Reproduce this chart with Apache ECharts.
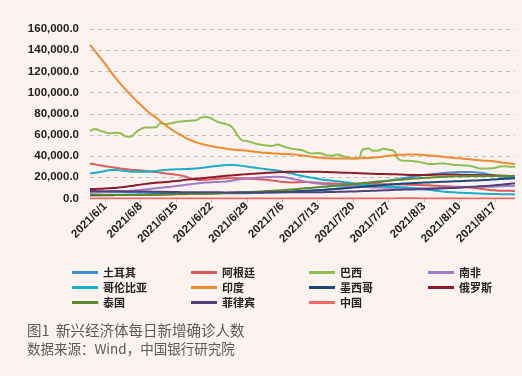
<!DOCTYPE html>
<html lang="zh">
  <head>
    <meta charset="utf-8">
    <title>新兴经济体每日新增确诊人数</title>
    <script src="https://cdn.jsdelivr.net/npm/echarts@6/dist/echarts.min.js"></script>
    <style>
      html, body { margin: 0; padding: 0; background: #fcf3f0; }
      #chart { width: 522px; height: 376px; }
    </style>
  </head>
  <body>
    <div id="chart"></div>

    <script>
      // dates 2021/5/29 .. 2021/8/21, one per day
      var dates = [];
      var d = new Date(2021, 4, 29);
      var last = new Date(2021, 7, 21);
      while (d <= last) {
        dates.push(d.getFullYear() + "/" + (d.getMonth() + 1) + "/" + d.getDate());
        d.setDate(d.getDate() + 1);
      }

      var yTicks = [0, 20000, 40000, 60000, 80000, 100000, 120000, 140000, 160000];

      var turkey = [6500,6400,6300,6200,6100,6000,5900,5800,5700,5600,
        5600,5500,5500,5400,5400,5300,5300,5200,5200,5100,
        5100,5000,5000,5000,5000,5000,5000,5000,5000,5000,
        5000,5000,5100,5200,5300,5400,5500,5600,5800,6000,
        6300,6600,6900,7200,7500,7800,8100,8500,8900,9400,
        10000,10600,11300,12000,12800,13600,14400,15200,16000,16800,
        17600,18400,19200,20000,20800,21500,22100,22700,23200,23700,
        24100,24500,24800,25000,25100,25000,24700,24200,23500,22600,
        21700,20900,20200,19600,19100];

      var argentina = [33000,32200,31300,30500,29800,29100,28400,27800,27200,26800,
        26400,26000,25500,25000,24400,23700,23100,22500,21700,20500,
        19000,17800,17500,17800,18200,18500,18800,19000,19000,19000,
        19000,18800,18600,18300,18000,17600,17000,16400,15800,15400,
        15200,15300,15500,15500,15200,14800,14500,14300,14200,14000,
        13800,13600,13400,13400,13400,13400,13400,13400,13400,13400,
        13400,13300,13200,13000,12800,12700,12600,12400,12100,11800,
        11500,11300,11100,11000,10800,10400,9900,9300,8700,8100,
        7700,7400,7300,7200,7100];

      var brazil = [63500,65500,64000,62500,61500,62000,61500,58800,58200,62000,
        65500,67000,67000,67300,71000,70200,71000,72000,72700,73200,
        73500,74000,76500,77000,75500,72800,71300,70000,67800,61000,
        55200,54200,52800,51500,50600,50000,49500,51000,49500,48000,
        47000,46300,45600,43500,42500,43000,42200,40500,40500,41500,
        40000,38800,37800,37800,46500,47200,45000,45200,47000,46000,
        45000,37000,35600,35600,35200,34500,33600,32600,32600,33000,
        33000,32300,31700,31500,31200,30900,29800,28400,28300,28400,
        28800,30200,30400,30000,29900];

      var southAfrica = [6000,6000,6100,6200,6300,6500,6700,7000,7300,7700,
        8100,8600,9100,9600,10100,10600,11100,11700,12300,12900,
        13500,14100,14700,15100,15400,15600,15800,16100,16800,17600,
        18300,18800,19200,19600,19900,20200,20400,20500,20200,19500,
        18500,17600,16600,15700,14900,14200,13600,13100,12700,12300,
        12000,11700,11400,11100,10900,10700,10500,10400,10300,10200,
        10100,10000,9900,9800,9700,9600,9600,9600,9700,9800,
        9900,10100,10300,10500,10600,10800,10900,11000,11100,11200,
        11300,11500,11700,11900,12000];

      var colombia = [23700,24200,25000,26000,26800,27000,26500,26000,25500,25200,
        25200,25300,25600,26000,26600,27000,27300,27500,27700,27800,
        28000,28400,28900,29500,30100,30700,31200,31600,31700,31300,
        30800,30200,29500,28800,28200,27600,27000,26500,25500,24400,
        23300,22300,21300,20300,19500,18600,17800,17200,16700,16200,
        15600,15000,14300,13700,13300,12800,12300,12000,11700,11400,
        11100,10800,10500,10200,9800,9300,8800,8300,7600,7000,
        6400,6100,5800,5500,5300,5100,4900,4700,4500,4300,
        4200,4100,4000,3900,3900];

      var india = [145000,139000,133000,127000,120500,114000,108500,103000,98000,93000,
        88500,84000,80000,76500,72500,69000,65500,62500,60000,57000,
        55000,53000,51500,50500,49300,48500,47800,47000,46300,45800,
        45500,45000,44500,43800,43300,43000,42700,42400,42100,42000,
        41800,41200,40500,40000,39300,38700,38300,38000,37800,37800,
        37700,37800,37800,37900,38000,38300,38500,39000,39700,40400,
        40900,41200,41400,41600,41600,41300,41000,40500,40200,39800,
        39300,38800,38300,37900,37500,37000,36500,36100,35700,35400,
        35000,34300,33600,33000,32500];

      var mexico = [3000,3000,3000,3100,3100,3200,3200,3300,3300,3400,
        3500,3600,3700,3800,3900,4000,4100,4200,4300,4400,
        4500,4600,4700,4800,4900,5000,5100,5200,5400,5500,
        5600,5700,5800,6000,6100,6200,6300,6400,6500,6600,
        6700,6900,7100,7300,7500,7800,8100,8400,8700,9100,
        9500,9900,10300,10700,11100,11500,11900,12300,12700,13100,
        13500,13800,14100,14300,14600,14800,15000,15200,15400,15600,
        15800,16000,16200,16400,16600,16800,17000,17200,17400,17700,
        18000,18300,18600,18900,19200];

      var russia = [8900,9000,9200,9400,9700,10000,10500,11100,11700,12400,
        13100,13800,14400,14800,15200,15600,16100,16600,17100,17600,
        18100,18600,19100,19600,20000,20500,21000,21400,21800,22200,
        22600,23000,23300,23600,23900,24200,24500,24800,25000,25200,
        25200,25300,25300,25300,25200,25200,25100,25000,24800,24600,
        24400,24300,24100,23900,23700,23500,23300,23200,23100,23000,
        22900,22700,22500,22300,22200,22100,22100,22200,22400,22600,
        22700,22700,22600,22500,22400,22300,22200,22100,22000,21900,
        21800,21600,21500,21300,21200];

      var thailand = [3900,3800,3700,3600,3500,3400,3400,3300,3300,3300,
        3300,3400,3400,3500,3600,3700,3800,3900,4000,4100,
        4200,4300,4400,4500,4600,4800,5000,5200,5400,5600,
        5800,6000,6200,6400,6700,7000,7300,7600,7900,8200,
        8600,9000,9400,9800,10200,10600,11000,11400,11800,12200,
        12700,13200,13700,14200,14700,15200,15600,16000,16400,16800,
        17200,17600,18000,18400,18800,19100,19400,19700,20000,20300,
        20500,20700,20900,21000,21100,21200,21300,21300,21300,21300,
        21300,21300,21200,21200,21200];

      var philippines = [7000,7000,6900,6900,6800,6800,6800,6700,6700,6600,
        6600,6500,6500,6400,6400,6300,6200,6100,6000,6000,
        5900,5900,5800,5800,5800,5800,5800,5700,5700,5700,
        5700,5700,5700,5700,5700,5800,5800,5800,5800,5800,
        5800,5800,5900,5900,5900,6000,6000,6100,6200,6300,
        6400,6500,6600,6800,7000,7100,7300,7500,7700,7900,
        8100,8300,8400,8500,8600,8700,8800,9000,9200,9400,
        9600,9800,10000,10300,10600,10900,11200,11500,11800,12100,
        12500,12900,13400,13900,14300];

      var china = [30,25,25,30,35,30,25,25,30,30,
        35,35,30,30,25,25,25,30,30,25,
        25,25,30,30,35,35,30,30,30,35,
        35,40,40,45,45,50,50,55,55,50,
        50,55,60,60,55,55,60,65,70,75,
        80,85,90,95,95,100,100,105,110,110,
        115,120,120,125,125,120,115,110,105,100,
        95,90,85,80,75,70,65,60,55,50,
        45,45,40,40,35];

      var names = ["土耳其", "阿根廷", "巴西", "南非", "哥伦比亚", "印度",
                   "墨西哥", "俄罗斯", "泰国", "菲律宾", "中国"];
      var values = [turkey, argentina, brazil, southAfrica, colombia, india,
                    mexico, russia, thailand, philippines, china];
      var colors = ["#3d8fd1", "#df5a5a", "#8cc152", "#a07cc5", "#17afc9", "#f28a30",
                    "#1a4a78", "#8c1c2c", "#5b8a2f", "#51407a", "#ec6a63"];

      // labels every 7 days starting from 2021/6/1
      var firstLabel = dates.indexOf("2021/6/1");
      function weekly(idx) {
        return idx >= firstLabel && (idx - firstLabel) % 7 === 0;
      }

      function fmt(v) {
        return v.toLocaleString("en-US", {minimumFractionDigits: 1, maximumFractionDigits: 1});
      }

      var series = [];
      for (var i = 0; i < names.length; i++) {
        series.push({
          name: names[i],
          type: "line",
          data: values[i],
          smooth: true,
          symbol: "none",
          lineStyle: {width: 2, color: colors[i]},
          itemStyle: {color: colors[i]}
        });
      }

      // 4 legend columns, 3 rows
      var cols = [
        ["土耳其", "哥伦比亚", "泰国"],
        ["阿根廷", "印度", "菲律宾"],
        ["巴西", "墨西哥", "中国"],
        ["南非", "俄罗斯"]
      ];
      var colLeft = [67, 186, 304, 423];
      var legends = [];
      for (var c = 0; c < cols.length; c++) {
        legends.push({
          data: cols[c],
          orient: "vertical",
          left: colLeft[c],
          top: 261,
          icon: "rect",
          itemWidth: 26,
          itemHeight: 3,
          itemGap: 2,
          selectedMode: false,
          textStyle: {
            fontSize: 11,
            fontWeight: "bold",
            color: "#222",
            lineHeight: 13,
            fontFamily: "Noto Sans CJK SC"
          }
        });
      }

      var myChart = echarts.init(document.getElementById("chart"));
      myChart.setOption({
        backgroundColor: "#fcf3f0",
        animation: false,
        color: colors,
        legend: legends,
        grid: {left: 90, right: 7, top: 29, bottom: 177.5},
        xAxis: {
          type: "category",
          data: dates,
          boundaryGap: false,
          axisLine: {lineStyle: {color: "#bfbfbf"}},
          axisTick: {interval: weekly, length: 4, lineStyle: {color: "#bfbfbf"}},
          axisLabel: {
            interval: weekly,
            rotate: 45,
            margin: 6,
            fontSize: 11.5,
            fontWeight: "bold",
            color: "#222",
            fontFamily: "Liberation Sans"
          },
          splitLine: {show: false}
        },
        yAxis: {
          type: "value",
          min: yTicks[0],
          max: yTicks[yTicks.length - 1],
          interval: yTicks[1] - yTicks[0],
          axisLine: {show: false},
          axisTick: {show: false},
          axisLabel: {
            formatter: fmt,
            margin: 11,
            fontSize: 11.5,
            fontWeight: "bold",
            color: "#222",
            fontFamily: "Liberation Sans"
          },
          splitLine: {lineStyle: {color: "#bdbdbd", type: [4, 4]}}
        },
        graphic: [
          {
            type: "text",
            left: 27,
            top: 323,
            style: {
              text: "图1  新兴经济体每日新增确诊人数",
              font: "14.5px 'Noto Sans CJK SC'",
              fill: "#5a5a5a"
            }
          },
          {
            type: "text",
            left: 27,
            top: 342,
            style: {
              text: "数据来源：Wind，中国银行研究院",
              font: "13.5px 'Noto Sans CJK SC'",
              fill: "#5a5a5a"
            }
          }
        ],
        series: series
      });
    </script>
  </body>
</html>
